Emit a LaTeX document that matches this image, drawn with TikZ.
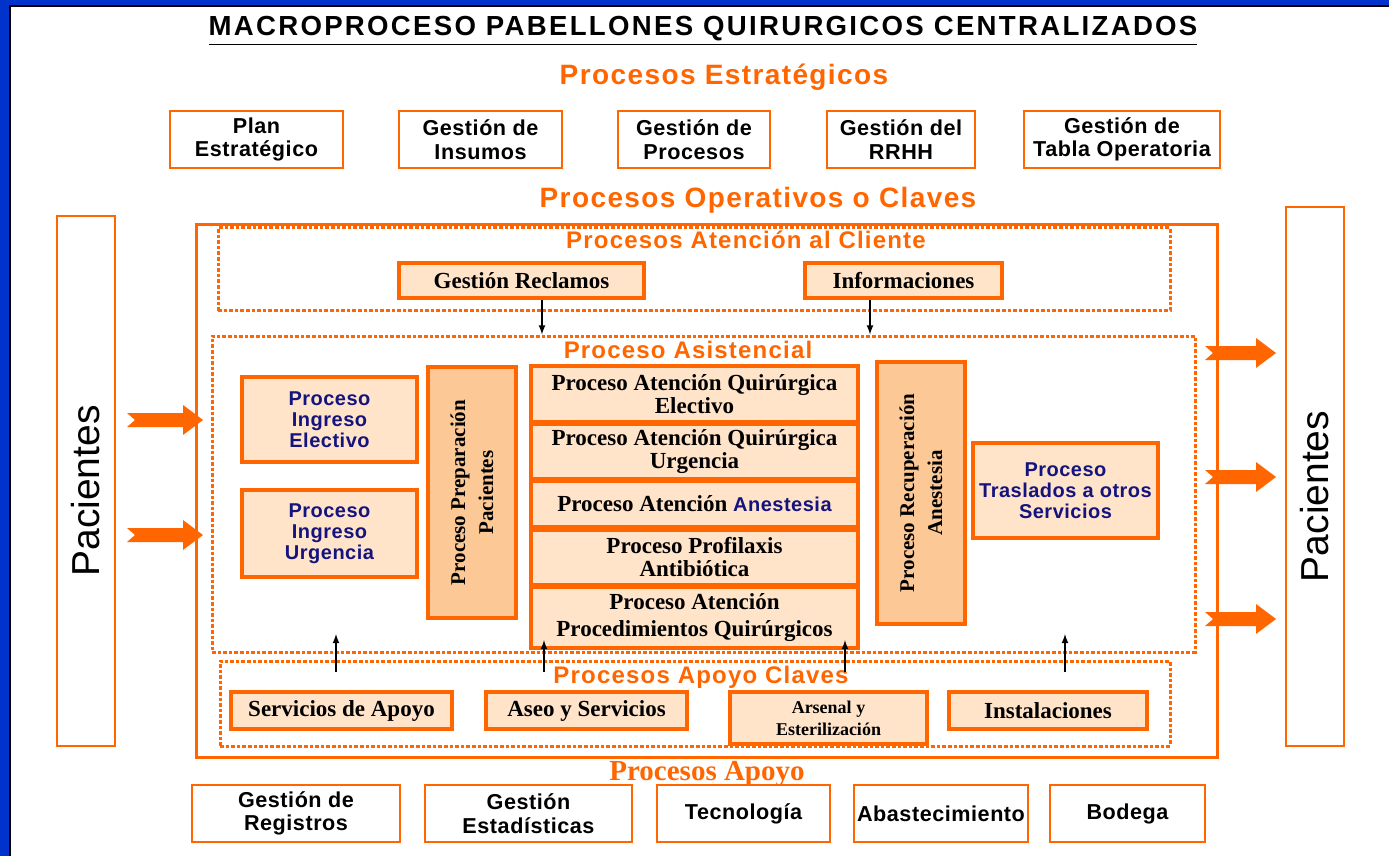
\documentclass[tikz,border=0pt]{standalone}
\usepackage{fontspec}
\setmainfont{Liberation Serif}
\setsansfont{Liberation Sans}
\newfontfamily\arialtit{Liberation Sans}[LetterSpace=8.3]
\newfontfamily\arialesp{Liberation Sans}[LetterSpace=5]
\newfontfamily\arialmed{Liberation Sans}[LetterSpace=2.5]
\usetikzlibrary{calc}

\definecolor{naranja}{HTML}{FF6600}
\definecolor{melocoton}{HTML}{FFE4CA}
\definecolor{melocotonosc}{HTML}{FCC996}
\definecolor{azulnavy}{HTML}{14147F}
\definecolor{azulborde}{HTML}{0033CC}

\tikzset{
    titulo/.style={font=\arialtit\bfseries\fontsize{13.8}{15}\selectfont},
    seccion/.style={text=naranja, font=\arialesp\bfseries\fontsize{14}{16}\selectfont},
    subseccion/.style={text=naranja, font=\arialesp\bfseries\fontsize{12}{13}\selectfont},
    estrat/.style={draw=naranja, line width=0.8pt, fill=white, align=center, inner sep=0pt,
        font=\arialmed\bfseries\fontsize{10.8}{11.8}\selectfont},
    pacbox/.style={draw=naranja, line width=0.8pt, fill=white, inner sep=0pt,
        font=\sffamily\fontsize{19.5}{22}\selectfont},
    marco/.style={draw=naranja, line width=1.5pt, inner sep=0pt},
    punteado/.style={draw=naranja, line width=1.5pt, dash pattern=on 1.8pt off 1pt, inner sep=0pt},
    clave/.style={draw=naranja, line width=2pt, fill=melocoton, align=center, inner sep=0pt,
        font=\bfseries\fontsize{11.5}{11.5}\selectfont},
    navy/.style={clave, text=azulnavy, font=\arialmed\bfseries\fontsize{10}{10.5}\selectfont},
    alto/.style={clave, fill=melocotonosc, rotate=90, font=\bfseries\fontsize{10.5}{14}\selectfont},
    flecha/.style={-latex, line width=0.6pt}
}

\newcommand{\flechagruesa}[2]{
    \fill[naranja] (#1) ++(0,-7) -- ++({#2-20},0) -- ++(0,-8) -- ++(20,15)
        -- ++(-20,15) -- ++(0,-8) -- ++({-(#2-20)},0) -- ++(8,-7) -- cycle;
}

\begin{document}
\begin{tikzpicture}[x=0.5pt, y=-0.5pt]
    \useasboundingbox (0,0) rectangle (1389,856);
    \fill[azulborde] (0,0) rectangle (1389,6);
    \fill[azulborde] (0,0) rectangle (10,856);
    \draw[line width=0.6pt] (10,856) -- (10,6) -- (1389,6);

    \node[titulo] (titulo) at (703,31) {\underline{MACROPROCESO PABELLONES QUIRURGICOS CENTRALIZADOS}};
    \node[seccion] (estrategicos) at (724,77) {Procesos Estratégicos};
    \node[seccion] (operativoslbl) at (758,200) {Procesos Operativos o Claves};

    \node[estrat, minimum width=86.5pt, minimum height=28.5pt] (plan) at (256.5,139.5) {Plan\\Estratégico};
    \node[estrat, minimum width=81.5pt, minimum height=28.5pt] (insumos) at (480.5,139.5) {Gestión de\\Insumos};
    \node[estrat, minimum width=76pt, minimum height=28.5pt] (procesos) at (694,139.5) {Gestión de\\Procesos};
    \node[estrat, minimum width=74pt, minimum height=28.5pt] (rrhh) at (901,139.5) {Gestión del\\RRHH};
    \node[estrat, minimum width=98pt, minimum height=28.5pt] (tabla) at (1122,139.5) {Gestión de\\Tabla Operatoria};

    \node[pacbox, rotate=90, minimum width=265pt, minimum height=29pt] (pacizq) at (86,481) {Pacientes\hspace*{10pt}};
    \node[pacbox, rotate=90, minimum width=269.5pt, minimum height=29pt] (pacder) at (1315,476.5) {Pacientes\hspace*{20pt}};

    \node[marco, minimum width=510.5pt, minimum height=266pt] (operativos) at (706.5,491) {};
    \node[punteado, minimum width=476pt, minimum height=41.5pt] (cliente) at (694,269.5) {};
    \node[punteado, minimum width=491.5pt, minimum height=158pt] (asistencial) at (703.5,494) {};
    \node[punteado, minimum width=475pt, minimum height=42.5pt] (apoyoclaves) at (695,703.5) {};

    \node[subseccion] (clientelbl) at (746,240) {Procesos Atención al Cliente};
    \node[subseccion] (asistenciallbl) at (688,350) {Proceso Asistencial};
    \node[subseccion] (apoyoclaveslbl) at (701,677) {Procesos Apoyo Claves};

    \node[clave, minimum width=122.5pt, minimum height=17.5pt] (reclamos) at (521.5,280.5) {Gestión Reclamos};
    \node[clave, minimum width=98.5pt, minimum height=17.5pt] (informaciones) at (903.5,280.5) {Informaciones};

    \node[navy, minimum width=87.5pt, minimum height=42.5pt] (ingelectivo) at (329.5,419.5) {Proceso\\Ingreso\\Electivo};
    \node[navy, minimum width=87.5pt, minimum height=43.5pt] (ingurgencia) at (329.5,533.5) {Proceso\\Ingreso\\Urgencia};
    \node[alto, minimum width=125.5pt, minimum height=44pt] (preparacion) at (472,492.5) {Proceso Preparación\\Pacientes};

    \node[clave, minimum width=163.5pt, minimum height=28pt] (quirelectivo) at (694.5,394) {Proceso Atención Quirúrgica\\Electivo};
    \node[clave, minimum width=163.5pt, minimum height=27.5pt] (quirurgencia) at (694.5,451.5) {Proceso Atención Quirúrgica\\Urgencia};
    \node[clave, minimum width=163.5pt, minimum height=23pt] (anestesia) at (694.5,504) {Proceso Atención \textcolor{azulnavy}{\arialmed\fontsize{10}{11}\selectfont Anestesia}};
    \node[clave, minimum width=163.5pt, minimum height=27.5pt] (profilaxis) at (694.5,557.5) {Proceso Profilaxis\\Antibiótica};
    \node[clave, minimum width=163.5pt, minimum height=30.5pt, font=\bfseries\fontsize{11.5}{13.5}\selectfont] (procedimientos) at (694.5,617.5) {Proceso Atención\\Procedimientos Quirúrgicos};

    \node[alto, minimum width=131pt, minimum height=44pt] (recuperacion) at (921,493) {Proceso Recuperación\\Anestesia};
    \node[navy, minimum width=92.5pt, minimum height=47.5pt] (traslados) at (1065.5,490.5) {Proceso\\Traslados a otros\\Servicios};

    \node[clave, minimum width=110.5pt, minimum height=18.5pt] (servapoyo) at (341.5,710.5) {Servicios de Apoyo};
    \node[clave, minimum width=100.5pt, minimum height=18.5pt] (aseo) at (586.5,710.5) {Aseo y Servicios};
    \node[clave, minimum width=98.5pt, minimum height=26pt, font=\bfseries\fontsize{9}{11}\selectfont] (arsenal) at (828.5,718) {Arsenal y\\Esterilización};
    \node[clave, minimum width=99pt, minimum height=18.5pt] (instalaciones) at (1048,710.5) {Instalaciones};

    \node[font=\bfseries\fontsize{14.5}{16}\selectfont, text=naranja] (apoyolbl) at (707,774) {Procesos Apoyo};
    \node[estrat, minimum width=104pt, minimum height=28.5pt] (registros) at (296,813.5) {Gestión de\\Registros};
    \node[estrat, minimum width=103.5pt, minimum height=28.5pt] (estadisticas) at (528.5,813.5) {Gestión\\Estadísticas};
    \node[estrat, minimum width=86.5pt, minimum height=28.5pt] (tecnologia) at (743.5,813.5) {Tecnología};
    \node[estrat, minimum width=87pt, minimum height=28.5pt] (abastecimiento) at (941,813.5) {Abastecimiento};
    \node[estrat, minimum width=77.5pt, minimum height=28.5pt] (bodega) at (1127.5,813.5) {Bodega};

    \coordinate (r1) at ($(reclamos.south)+(20.5,0)$);
    \coordinate (r2) at ($(informaciones.south)+(-33.5,0)$);
    \draw[flecha] (r1) -- (r1 |- asistencial.north);
    \draw[flecha] (r2) -- (r2 |- asistencial.north);
    \foreach \x/\y [count=\i] in {336/634, 544/640, 845/640, 1065/634}{
        \coordinate (ini\i) at (\x,672);
        \draw[flecha] (ini\i) -- (\x,\y);
    }

    \foreach \y in {420,535} {\flechagruesa{127,\y}{76}}
    \foreach \y in {353,477,619} {\flechagruesa{1205,\y}{71}}
\end{tikzpicture}
\end{document}
